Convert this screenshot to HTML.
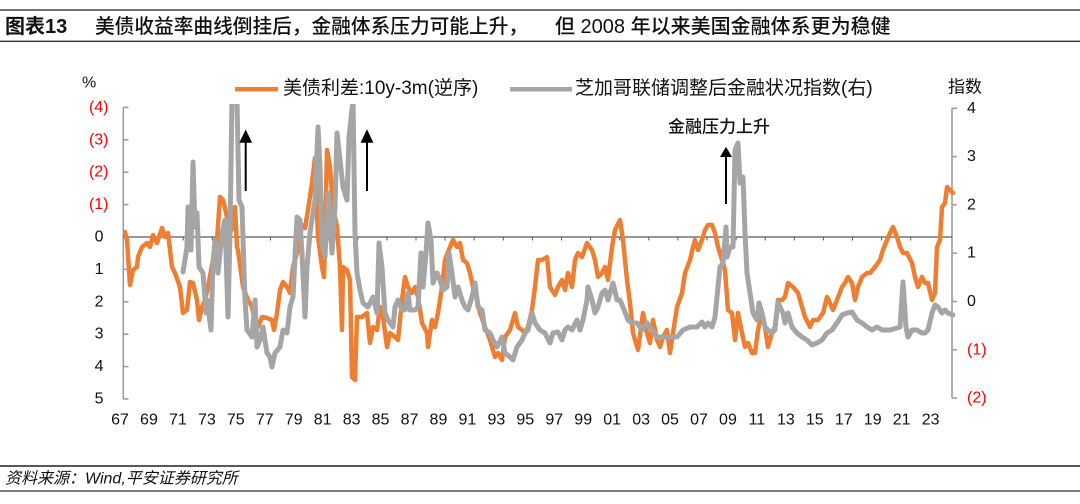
<!DOCTYPE html>
<html><head><meta charset="utf-8"><style>
html,body{margin:0;padding:0;background:#fff;}
svg{display:block;}
.cj{font-family:"Liberation Sans","Noto Sans CJK SC",sans-serif;}
</style></head><body>
<svg width="1080" height="504" viewBox="0 0 1080 504" xmlns="http://www.w3.org/2000/svg">
<defs><clipPath id="pc"><rect x="123" y="104" width="832" height="300"/></clipPath></defs>
<!-- frame lines -->
<line x1="0" y1="10" x2="1080" y2="10" stroke="#444" stroke-width="1.5"/>
<line x1="0" y1="41.3" x2="1080" y2="41.3" stroke="#333" stroke-width="1.4"/>
<line x1="0" y1="466" x2="1080" y2="466" stroke="#222" stroke-width="1.4"/>
<line x1="0" y1="491" x2="1080" y2="491" stroke="#333" stroke-width="1.3"/>
<!-- title -->
<text class="cj" x="5" y="27" dominant-baseline="central" font-size="20" font-weight="bold" fill="#111">图表13</text>
<text class="cj" x="95" y="27" dominant-baseline="central" font-size="19.7" font-weight="500" fill="#111">美债收益率曲线倒挂后，金融体系压力可能上升，</text>
<text class="cj" x="555" y="27" dominant-baseline="central" font-size="20" font-weight="500" fill="#111">但 2008 年以来美国金融体系更为稳健</text>
<!-- source -->
<text class="cj" x="5" y="479" dominant-baseline="central" font-size="16" font-style="italic" fill="#111">资料来源：Wind,平安证券研究所</text>
<!-- legend -->
<line x1="235" y1="89.3" x2="278" y2="89.3" stroke="#EE7F32" stroke-width="4.5"/>
<text class="cj" x="283" y="88.5" dominant-baseline="central" font-size="19" fill="#111">美债利差:10y-3m(逆序)</text>
<line x1="510" y1="89.3" x2="572" y2="89.3" stroke="#A5A5A5" stroke-width="4.5"/>
<text class="cj" x="575" y="88.5" dominant-baseline="central" font-size="19" fill="#111">芝加哥联储调整后金融状况指数(右)</text>
<!-- axis titles -->
<text class="cj" x="82" y="83" dominant-baseline="central" font-size="16" fill="#111">%</text>
<text class="cj" x="948" y="87" dominant-baseline="central" font-size="17" fill="#111">指数</text>
<!-- left axis -->
<g stroke="#999" stroke-width="1.5" fill="none">
<line x1="123.3" y1="107.4" x2="123.3" y2="399"/>
<line x1="123.3" y1="107.4" x2="128.5" y2="107.4"/>
<line x1="123.3" y1="139.8" x2="128.5" y2="139.8"/>
<line x1="123.3" y1="172.2" x2="128.5" y2="172.2"/>
<line x1="123.3" y1="204.6" x2="128.5" y2="204.6"/>
<line x1="123.3" y1="269.4" x2="128.5" y2="269.4"/>
<line x1="123.3" y1="301.8" x2="128.5" y2="301.8"/>
<line x1="123.3" y1="334.2" x2="128.5" y2="334.2"/>
<line x1="123.3" y1="366.6" x2="128.5" y2="366.6"/>
<line x1="123.3" y1="399" x2="128.5" y2="399"/>
</g>
<g class="cj" font-size="16" dominant-baseline="central">
<text x="108.5" y="107.4" text-anchor="end" fill="#FF0000">(4)</text>
<text x="108.5" y="139.8" text-anchor="end" fill="#FF0000">(3)</text>
<text x="108.5" y="172.2" text-anchor="end" fill="#FF0000">(2)</text>
<text x="108.5" y="204.6" text-anchor="end" fill="#FF0000">(1)</text>
<text x="103.5" y="237" text-anchor="end" fill="#111">0</text>
<text x="103.5" y="269.4" text-anchor="end" fill="#111">1</text>
<text x="103.5" y="301.8" text-anchor="end" fill="#111">2</text>
<text x="103.5" y="334.2" text-anchor="end" fill="#111">3</text>
<text x="103.5" y="366.6" text-anchor="end" fill="#111">4</text>
<text x="103.5" y="399" text-anchor="end" fill="#111">5</text>
</g>
<!-- right axis -->
<g stroke="#999" stroke-width="1.5" fill="none">
<line x1="952" y1="108.3" x2="952" y2="398.1"/>
<line x1="952" y1="108.3" x2="957" y2="108.3"/>
<line x1="952" y1="156.6" x2="957" y2="156.6"/>
<line x1="952" y1="204.9" x2="957" y2="204.9"/>
<line x1="952" y1="253.2" x2="957" y2="253.2"/>
<line x1="952" y1="301.5" x2="957" y2="301.5"/>
<line x1="952" y1="349.8" x2="957" y2="349.8"/>
<line x1="952" y1="398.1" x2="957" y2="398.1"/>
</g>
<g class="cj" font-size="16" dominant-baseline="central">
<text x="967" y="108.3" fill="#111">4</text>
<text x="967" y="156.6" fill="#111">3</text>
<text x="967" y="204.9" fill="#111">2</text>
<text x="967" y="253.2" fill="#111">1</text>
<text x="967" y="301.5" fill="#111">0</text>
<text x="967" y="349.8" fill="#FF0000">(1)</text>
<text x="967" y="398.1" fill="#FF0000">(2)</text>
</g>
<!-- zero line with ticks -->
<line x1="123" y1="237" x2="952" y2="237" stroke="#595959" stroke-width="1.2"/>
<path stroke="#595959" stroke-width="1" fill="none" d="M125,237v3.5M154.1,237v3.5M183.2,237v3.5M212.3,237v3.5M241.4,237v3.5M270.5,237v3.5M299.6,237v3.5M328.7,237v3.5M357.8,237v3.5M386.9,237v3.5M416,237v3.5M445.1,237v3.5M474.2,237v3.5M503.3,237v3.5M532.4,237v3.5M561.5,237v3.5M590.6,237v3.5M619.7,237v3.5M648.8,237v3.5M677.9,237v3.5M707,237v3.5M736.1,237v3.5M765.2,237v3.5M794.3,237v3.5M823.4,237v3.5M852.5,237v3.5M881.6,237v3.5M910.7,237v3.5M939.8,237v3.5"/>
<!-- x labels -->
<g class="cj" font-size="16" text-anchor="middle" dominant-baseline="central" fill="#111">
<text x="120" y="420">67</text><text x="148.95" y="420">69</text><text x="177.9" y="420">71</text><text x="206.85" y="420">73</text><text x="235.8" y="420">75</text><text x="264.75" y="420">77</text><text x="293.7" y="420">79</text><text x="322.65" y="420">81</text><text x="351.6" y="420">83</text><text x="380.55" y="420">85</text><text x="409.5" y="420">87</text><text x="438.45" y="420">89</text><text x="467.4" y="420">91</text><text x="496.35" y="420">93</text><text x="525.3" y="420">95</text><text x="554.25" y="420">97</text><text x="583.2" y="420">99</text><text x="612.15" y="420">01</text><text x="641.1" y="420">03</text><text x="670.05" y="420">05</text><text x="699" y="420">07</text><text x="727.95" y="420">09</text><text x="756.9" y="420">11</text><text x="785.85" y="420">13</text><text x="814.8" y="420">15</text><text x="843.75" y="420">17</text><text x="872.7" y="420">19</text><text x="901.65" y="420">21</text><text x="930.6" y="420">23</text>
</g>
<!-- series -->
<g clip-path="url(#pc)" fill="none" stroke-linejoin="round" stroke-linecap="round">
<polyline stroke="#EE7F32" stroke-width="4.5" points="125,232 127,240 130,285 133,270 137,267 138,257 142,247 147,243 150,247 153,235 157,243 162,228 165,237 168,233 172,267 175,273 180,287 183,313 187,310 190,282 193,283 197,300 199,320 202,307 205,300 208,287 213,260 217,240 220,197 223,200 227,217 230,233 233,227 235,207 237,247 238,250 243,287 248,300 252,307 255,320 258,327 262,317 267,318 272,320 274,330 277,313 280,290 283,282 287,287 290,293 293,267 297,253 302,225 305,228 308,210 312,183 315,158 317,210 318,237 322,267 324,277 325,240 327,150 330,167 333,207 337,227 340,267 342,330 343,267 347,270 350,280 352,377 355,380 357,317 362,317 367,313 370,343 373,327 377,330 380,307 383,317 387,347 390,333 395,337 398,340 402,300 405,277 408,287 412,293 415,287 418,297 422,323 427,333 428,347 432,320 435,327 438,313 442,287 445,260 450,247 453,240 457,247 460,243 463,260 467,263 470,273 473,287 477,300 480,313 485,327 490,340 495,357 498,353 502,360 505,337 510,330 515,313 518,327 522,330 525,333 528,327 532,310 535,287 538,260 542,260 547,257 550,287 555,295 558,287 562,280 565,290 568,273 572,287 575,260 578,253 582,257 587,243 592,250 595,260 598,277 602,273 605,267 608,280 612,247 615,230 620,220 623,240 627,280 630,303 633,333 638,350 643,313 647,333 650,343 653,320 657,340 660,347 663,337 667,330 670,353 673,333 677,307 682,293 685,273 690,260 693,247 695,240 698,250 702,240 705,230 708,225 712,225 715,233 718,247 722,260 725,270 728,310 732,313 735,340 738,313 742,333 745,347 748,343 752,353 755,353 758,330 762,313 765,327 768,347 772,333 775,330 778,300 782,300 785,297 788,283 793,287 798,293 802,307 805,317 810,327 813,320 818,320 823,313 827,297 830,303 833,310 837,300 842,287 845,283 848,277 852,283 855,300 858,287 862,277 867,273 870,273 875,267 880,260 883,250 887,240 890,233 893,227 897,237 900,247 903,253 907,253 912,263 915,277 918,287 922,277 925,283 928,283 932,300 935,293 937,247 940,240 942,207 945,203 947,187 950,190 953,193"/>
<polyline stroke="#A5A5A5" stroke-width="5" points="183,272 187,247 188,207 191,250 193,162 195,227 197,213 199,267 203,273 206,313 207,300 211,330 213,263 215,240 218,273 222,233 225,220 228,317 230,233 232,100 235,100 237,100 239,200 242,207 245,300 247,330 252,337 255,300 257,347 260,340 263,327 267,353 270,357 272,367 275,353 280,347 283,330 287,333 290,307 293,297 297,217 300,220 302,253 305,317 307,267 310,233 313,213 315,200 318,127 320,167 322,243 325,257 328,193 332,253 335,207 337,133 340,160 343,187 347,200 349,137 353,100 355,233 357,273 360,290 363,303 368,307 373,297 377,313 379,243 382,267 385,313 388,320 393,327 395,307 398,300 402,310 405,310 408,293 410,310 415,310 418,307 421,253 423,287 426,253 428,223 431,240 433,283 437,273 440,280 443,290 447,287 449,253 452,273 455,297 458,287 462,300 465,307 468,310 472,297 475,283 478,307 482,310 485,330 490,333 493,340 497,347 502,337 505,353 510,357 513,360 517,347 522,340 525,333 528,330 532,313 535,323 540,330 545,333 550,343 553,333 558,332 562,340 565,330 568,327 572,330 577,320 580,330 583,320 587,300 588,287 592,300 595,313 598,307 602,293 605,290 608,300 613,283 617,300 620,300 623,307 628,320 632,323 637,323 642,330 647,323 652,330 657,337 662,337 670,337 677,337 683,330 690,327 697,327 702,322 705,327 708,323 712,327 715,317 718,287 720,267 723,263 726,227 727,257 730,247 733,247 735,150 738,143 740,183 743,177 745,233 747,273 750,293 753,313 757,320 759,303 762,313 765,327 768,330 772,333 775,327 778,302 780,307 783,313 785,323 788,313 792,327 797,333 802,337 807,340 812,345 817,343 822,340 827,333 832,330 837,323 842,315 847,313 852,312 857,320 862,323 867,327 872,330 877,327 882,330 885,330 890,330 897,328 900,327 903,282 906,327 908,337 912,330 917,330 922,333 925,333 928,330 932,313 935,305 938,307 942,313 945,310 948,313 953,315"/>
</g>
<!-- arrows -->
<g fill="#000" stroke="#000">
<line x1="245.7" y1="191" x2="245.7" y2="140" stroke-width="2"/>
<polygon points="245.7,129.5 239.3,142.7 252.1,142.7" stroke="none"/>
<line x1="367" y1="191" x2="367" y2="140" stroke-width="2"/>
<polygon points="367,129.3 360.6,142.7 373.4,142.7" stroke="none"/>
<line x1="726" y1="204" x2="726" y2="154" stroke-width="2"/>
<polygon points="726,146.7 720,157 732,157" stroke="none"/>
</g>
<text class="cj" x="668" y="127" dominant-baseline="central" font-size="17" font-weight="500" fill="#111">金融压力上升</text>
</svg>
</body></html>
